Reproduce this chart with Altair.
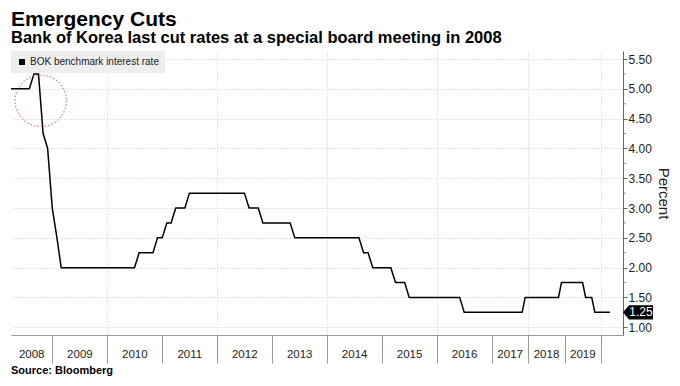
import altair as alt
import pandas as pd

# ---- data ----
change_months = ["2008-03", "2008-08", "2008-10", "2008-11", "2008-12", "2009-01", "2009-02",
                 "2010-07", "2010-11", "2011-01", "2011-03", "2011-06", "2012-07", "2012-10",
                 "2013-05", "2014-08", "2014-10", "2015-03", "2015-06", "2016-06", "2017-11",
                 "2018-11", "2019-07", "2019-10"]
change_rates = [5.00, 5.25, 4.25, 4.00, 3.00, 2.50, 2.00,
                2.25, 2.50, 2.75, 3.00, 3.25, 3.00, 2.75,
                2.50, 2.25, 2.00, 1.75, 1.50, 1.25, 1.50,
                1.75, 1.50, 1.25]
first_month = "2008-03"
last_month = "2020-03"
year_labels = [2008, 2009, 2010, 2011, 2012, 2013, 2014, 2015, 2016, 2017, 2018, 2019]
year_ticks = [2009, 2010, 2011, 2012, 2013, 2014, 2015, 2016, 2017, 2018, 2019, 2020]
y_major = [1.0, 1.5, 2.0, 2.5, 3.0, 3.5, 4.0, 4.5, 5.0, 5.5]
y_minor = [1.25, 1.75, 2.25, 2.75, 3.25, 3.75, 4.25, 4.75, 5.25]
series_name = "BOK benchmark interest rate"
highlight_date = "2008-10-15"
highlight_rate = 4.8


def dec_year(ts):
    ts = pd.Timestamp(ts)
    start = pd.Timestamp(year=ts.year, month=1, day=1)
    end = pd.Timestamp(year=ts.year + 1, month=1, day=1)
    return ts.year + (ts - start) / (end - start)


# monthly (end of month) series built from the rate decisions
periods = pd.period_range(first_month, last_month, freq="M")
chg = dict(zip(change_months, change_rates))
rates, cur = [], None
for p in periods:
    key = str(p)
    if key in chg:
        cur = chg[key]
    rates.append(cur)
dates = periods.to_timestamp(how="end").normalize()
df = pd.DataFrame({
    "t": [dec_year(d) for d in dates],
    "rate": rates,
    "series": series_name,
})

W, H = 612, 284
t0 = dec_year("2008-03-31")
t_end = dec_year("2020-08-09")
xscale = alt.Scale(domain=[t0, 2017.0, 2020.0, t_end], range=[0, 481, 590, W], nice=False, zero=False)
yscale = alt.Scale(domain=[0.87, 5.635], nice=False, zero=False)

mids = [(max(float(y), t0) + y + 1) / 2 for y in year_labels]
ylab = pd.DataFrame({"t": mids, "label": [str(y) for y in year_labels]})

FONT = "Liberation Sans"
evenyr = "round(datum.value) % 2 == 0"

xaxis = alt.Axis(
    values=year_ticks, labels=False, tickSize=28, tickColor="#999999", domainColor="#999999",
    gridColor="#cccccc", gridDash=[1, 2],
    gridOpacity={"condition": {"test": evenyr, "value": 1}, "value": 0},
    title=None)
yaxis = alt.Axis(
    orient="right", values=y_major, format=".2f", tickSize=4,
    gridColor="#cccccc", gridDash=[1, 2], domainColor="#666666", tickColor="#666666",
    labelFont=FONT, labelFontSize=12, labelColor="#222222", labelPadding=1,
    labelOverlap=False, title="Percent", titleFont=FONT, titleFontSize=15,
    titleFontWeight="normal", titleColor="#222222", titlePadding=4)


def X(field="t:Q"):
    return alt.X(field, scale=xscale, axis=xaxis)


def Y(field="rate:Q"):
    return alt.Y(field, scale=yscale, axis=yaxis)


line = alt.Chart(df).mark_line(color="#111111", strokeWidth=1.5).encode(
    x=X(), y=Y(),
    color=alt.Color("series:N", scale=alt.Scale(range=["black"]), legend=alt.Legend(
        title=None, orient="top-left", offset=0, padding=6, fillColor="#eeeeee",
        symbolType="square", symbolSize=36, symbolFillColor="black",
        symbolStrokeColor="black", symbolStrokeWidth=0, labelFont=FONT,
        labelFontSize=10, labelColor="#222222", labelOffset=3)),
)

minor = alt.Chart(pd.DataFrame({"rate": y_minor})).mark_tick(
    orient="horizontal", size=3, thickness=1, color="#666666"
).encode(x=alt.value(W + 1.5), y=Y())

circle = alt.Chart(pd.DataFrame({"t": [dec_year(highlight_date)], "rate": [highlight_rate]})).mark_point(
    shape="circle", size=2642, filled=False, color="#d9556b", strokeWidth=1.3, strokeDash=[1.5, 2]
).encode(x=X(), y=Y())

years = alt.Chart(ylab).mark_text(font=FONT, fontSize=11.5, color="#222222", baseline="middle").encode(
    x=X(), y=alt.value(H + 20), text="label:N")

last = df.tail(1)
tag = alt.Chart(last).mark_point(
    shape="M -1 0 L -0.6 -0.47 L 1 -0.47 L 1 0.47 L -0.6 0.47 Z",
    size=900, filled=True, color="black", opacity=1, strokeWidth=0
).encode(x=alt.value(W + 15), y=Y())
tagtext = alt.Chart(last).mark_text(font=FONT, fontSize=12, color="white", baseline="middle").encode(
    x=alt.value(W + 18), y=Y(), text=alt.Text("rate:Q", format=".2f"))

source = alt.Chart(pd.DataFrame({"s": ["Source: Bloomberg"]})).mark_text(
    font=FONT, fontSize=11, fontWeight="bold", color="black", align="left", baseline="middle"
).encode(x=alt.value(0), y=alt.value(H + 36), text="s:N")

chart = alt.layer(line, minor, circle, years, tag, tagtext, source).properties(
    width=W, height=H,
    autosize=alt.AutoSizeParams(type="none"),
    padding={"left": 3, "top": 43, "right": 49, "bottom": 43},
    title=alt.TitleParams(
        text="Emergency Cuts",
        subtitle="Bank of Korea last cut rates at a special board meeting in 2008",
        anchor="start", frame="group", font=FONT, fontSize=21, fontWeight="bold", color="black",
        subtitleFont=FONT, subtitleFontSize=16.5, subtitleFontWeight="bold", subtitleColor="black",
        offset=5, subtitlePadding=0),
).configure_view(stroke=None)

chart.save("out.html", embed_options={"renderer": "svg", "actions": False})
